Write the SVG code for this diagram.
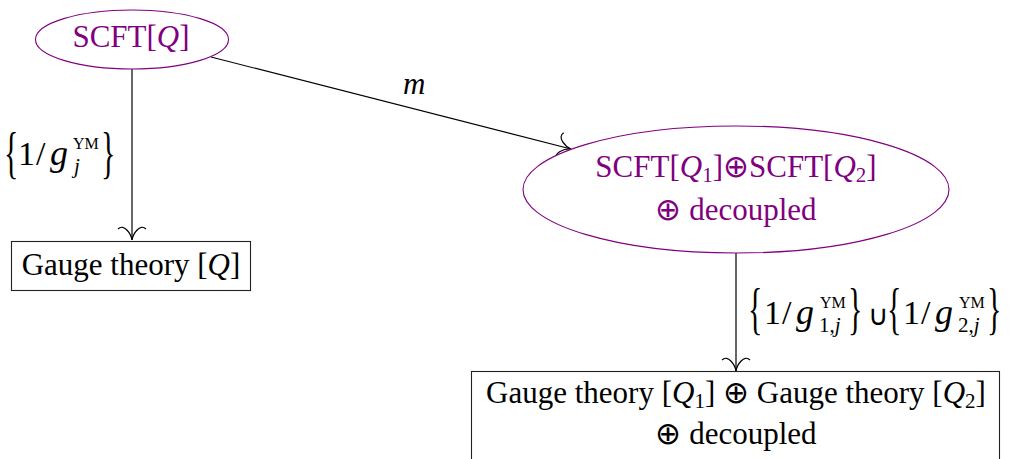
<svg xmlns="http://www.w3.org/2000/svg" width="1011" height="459" viewBox="0 0 1011 459" font-family="'Liberation Serif', 'Times New Roman', serif">
<style>
text { font-family: 'Liberation Serif', 'Times New Roman', serif; fill: #000; }
.t { font-size: 31px; }
.c { text-anchor: middle; }
.p { fill: #800080; }
.i { font-style: italic; }
.m { font-size: 34px; }
.g { font-size: 36px; font-style: italic; }
.sup { font-size: 16px; }
.sub { font-size: 21px; }
.br { font-size: 30px; }
.cup { font-size: 28px; }
.node-e { fill: #fff; stroke: #800080; stroke-width: 1.1; }
.node-r { fill: #fff; stroke: #222; stroke-width: 1.1; }
.edge { fill: none; stroke: #000; stroke-width: 1.2; }
</style>
<defs>
<marker id="to" markerUnits="userSpaceOnUse" orient="auto" viewBox="-18 -16 20 32" refX="0" refY="0" markerWidth="20" markerHeight="32" overflow="visible">
<path d="M -11,-14 C -17,-8 -6,-1 0,0 M -11,14 C -17,8 -6,1 0,0" fill="none" stroke="#000" stroke-width="1.2"/>
</marker>
</defs>
<rect width="1011" height="459" fill="#fff"/>

<g id="connectors">
<path class="edge" d="M132,69 L132,240" marker-end="url(#to)"/>
<path class="edge" d="M211,57 L571,149" marker-end="url(#to)"/>
<path class="edge" d="M736,253 L736,371" marker-end="url(#to)"/>
</g>

<g id="node-scft">
<ellipse class="node-e" cx="132" cy="39.5" rx="96.5" ry="29.5"/>
<text class="t c p" x="131" y="47">SCFT[<tspan class="i">Q</tspan>]</text>
</g>

<g id="node-gauge">
<rect class="node-r" x="11.5" y="241.5" width="239" height="49"/>
<text class="t c" x="131" y="275">Gauge theory [<tspan class="i">Q</tspan>]</text>
</g>

<g id="node-scft12">
<ellipse class="node-e" cx="736" cy="189.5" rx="213" ry="63.5"/>
<text class="t c p" x="736" y="177">SCFT[<tspan class="i">Q</tspan><tspan class="sub" dy="5">1</tspan><tspan dy="-5">]⊕SCFT[</tspan><tspan class="i">Q</tspan><tspan class="sub" dy="5">2</tspan><tspan dy="-5">]</tspan></text>
<text class="t c p" x="736" y="220">⊕ decoupled</text>
</g>

<g id="node-gauge12">
<rect class="node-r" x="471.5" y="371.5" width="528" height="100"/>
<text class="t c" x="736" y="403">Gauge theory [<tspan class="i">Q</tspan><tspan class="sub" dy="5">1</tspan><tspan dy="-5">] ⊕ Gauge theory [</tspan><tspan class="i">Q</tspan><tspan class="sub" dy="5">2</tspan><tspan dy="-5">]</tspan></text>
<text class="t c" x="736" y="444">⊕ decoupled</text>
</g>

<g id="label-m">
<text class="t i" x="403" y="94">m</text>
</g>

<g id="label-left">
<text class="br" transform="translate(4,172) scale(1,1.92)">{</text>
<text class="m" x="18" y="165">1</text>
<text class="m" x="36" y="165">/</text>
<text class="g" x="50" y="165">g</text>
<text class="sup" x="73" y="149">YM</text>
<text class="sub i" x="74" y="173">j</text>
<text class="br" transform="translate(101,172) scale(1,1.92)">}</text>
</g>

<g id="label-right">
<text class="br" transform="translate(748,328) scale(1,1.92)">{</text>
<text class="m" x="764" y="324">1</text>
<text class="m" x="782" y="324">/</text>
<text class="g" x="796" y="324">g</text>
<text class="sup" x="820" y="308">YM</text>
<text class="sub" x="819" y="332">1,<tspan class="i">j</tspan></text>
<text class="br" transform="translate(848,328) scale(1,1.92)">}</text>
<text class="cup" x="868" y="325">∪</text>
<text class="br" transform="translate(887,328) scale(1,1.92)">{</text>
<text class="m" x="903" y="324">1</text>
<text class="m" x="921" y="324">/</text>
<text class="g" x="935" y="324">g</text>
<text class="sup" x="959" y="308">YM</text>
<text class="sub" x="958" y="332">2,<tspan class="i">j</tspan></text>
<text class="br" transform="translate(987,328) scale(1,1.92)">}</text>
</g>
</svg>
